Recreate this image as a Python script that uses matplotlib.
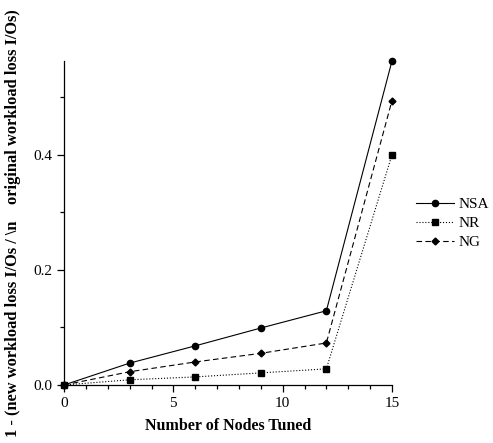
import matplotlib
matplotlib.use("Agg")
import matplotlib.pyplot as plt
from matplotlib.ticker import MultipleLocator

nodes = [0, 3, 6, 9, 12, 15]
nsa = [0.0, 0.038, 0.068, 0.099, 0.129, 0.563]
nr = [0.0, 0.009, 0.014, 0.021, 0.028, 0.400]
ng = [0.0, 0.023, 0.040, 0.055, 0.073, 0.494]

plt.rcParams['font.family'] = ['Liberation Serif', 'DejaVu Serif']

fig = plt.figure(figsize=(4.93, 4.43), dpi=100)
ax = fig.add_axes([0.130, 0.131, 0.665, 0.731])

ax.plot(nodes, nsa, color='black', linestyle='-', linewidth=0.8, marker='o', markersize=4.5, label='NSA', clip_on=False)
ax.plot(nodes, nr, color='black', linestyle=':', linewidth=0.8, marker='s', markersize=4.2, label='NR', clip_on=False)
ax.plot(nodes, ng, color='black', linestyle=(0, (5, 3)), linewidth=0.8, marker='D', markersize=3.5, label='NG', clip_on=False)

ax.set_xlim(0, 15)
ax.set_ylim(0, 0.563)
ax.xaxis.set_major_locator(MultipleLocator(5))
ax.xaxis.set_minor_locator(MultipleLocator(1))
ax.yaxis.set_major_locator(MultipleLocator(0.2))
ax.yaxis.set_minor_locator(MultipleLocator(0.1))
ax.yaxis.set_major_formatter(matplotlib.ticker.FormatStrFormatter('%.1f'))
for s in ['top', 'right']:
    ax.spines[s].set_visible(False)
ax.spines['left'].set_linewidth(0.9)
ax.spines['bottom'].set_linewidth(0.9)
ax.tick_params(which='major', length=5, width=0.9, labelsize=11)
ax.tick_params(which='minor', length=3, width=0.9)

ax.set_xlabel('Number of Nodes Tuned', fontsize=11.5, fontweight='bold', labelpad=6)
ax.set_ylabel(r'1 - (new workload loss I/Os / \n    original workload loss I/Os)', fontsize=11.8, fontweight='bold', labelpad=9)

ax.legend(loc='center left', bbox_to_anchor=(1.03, 0.50), frameon=False, fontsize=11,
          handlelength=2.5, handletextpad=0.3, labelspacing=0.35)

fig.savefig('out.png', dpi=100)
